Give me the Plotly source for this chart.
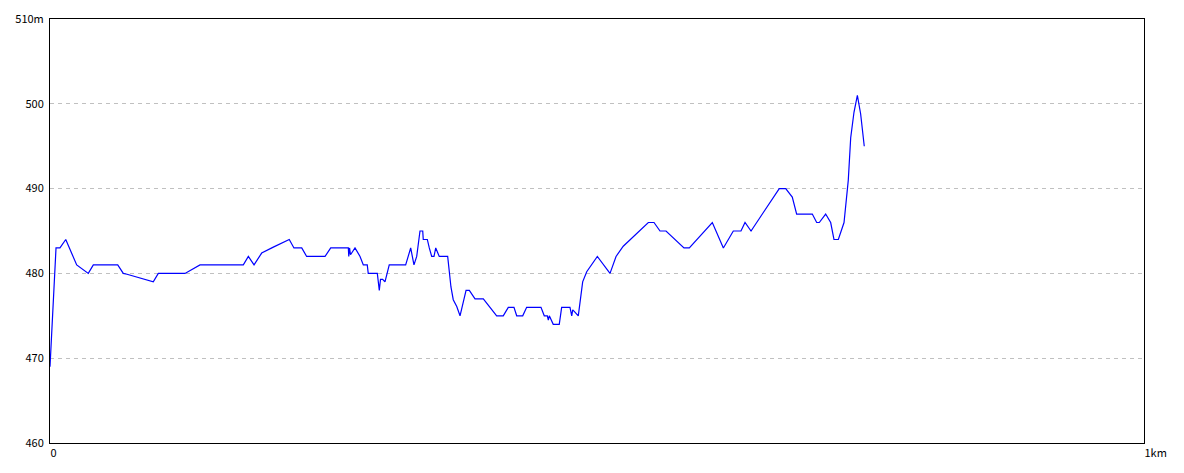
import plotly.graph_objects as go

distance_km = [
    0.0000, 0.0006, 0.0014, 0.0023, 0.0032, 0.0041, 0.0050, 0.0055, 0.0091, 0.0144,
    0.0244, 0.0350, 0.0396, 0.0619, 0.0670, 0.0704, 0.0944, 0.0990, 0.1234, 0.1371,
    0.1767, 0.1813, 0.1865, 0.1935, 0.2041, 0.2187, 0.2230, 0.2301, 0.2346, 0.2514,
    0.2566, 0.2727, 0.2731, 0.2738, 0.2747, 0.2788, 0.2834, 0.2864, 0.2900, 0.2909,
    0.2992, 0.2998, 0.3010, 0.3021, 0.3041, 0.3062, 0.3101, 0.3251, 0.3297, 0.3327,
    0.3352, 0.3382, 0.3407, 0.3412, 0.3449, 0.3467, 0.3489, 0.3510, 0.3526, 0.3558,
    0.3635, 0.3665, 0.3686, 0.3718, 0.3748, 0.3803, 0.3833, 0.3885, 0.3961, 0.4083,
    0.4143, 0.4189, 0.4241, 0.4266, 0.4321, 0.4357, 0.4488, 0.4518, 0.4546, 0.4555,
    0.4564, 0.4600, 0.4655, 0.4677, 0.4753, 0.4769, 0.4778, 0.4794, 0.4829, 0.4869,
    0.4906, 0.5003, 0.5119, 0.5174, 0.5240, 0.5469, 0.5521, 0.5576, 0.5631, 0.5795,
    0.5844, 0.6054, 0.6155, 0.6246, 0.6316, 0.6353, 0.6408, 0.6666, 0.6725, 0.6785,
    0.6825, 0.6968, 0.7008, 0.7032, 0.7090, 0.7136, 0.7166, 0.7206, 0.7258, 0.7297,
    0.7319, 0.7349, 0.7380, 0.7410, 0.7429, 0.7443,
]

elevation_m = [
    469, 470.5, 472.5, 475, 477, 479, 482, 483, 483, 484,
    481, 480, 481, 481, 480, 479.9, 479, 480, 480, 481,
    481, 482, 481, 482.4, 483.1, 484, 483, 483, 482, 482,
    483, 483, 482, 483, 482.2, 483, 482, 481, 481, 480,
    480, 479, 478, 479.3, 479.3, 479, 481, 481, 483, 481,
    482, 485, 485, 484, 484, 483, 482, 482, 483, 482,
    482, 478.4, 476.9, 476.1, 475, 478, 478, 477, 477, 475,
    475, 476, 476, 475, 475, 476, 476, 475, 475, 474.5,
    475, 474, 474, 476, 476, 475, 475.7, 475.5, 475, 479,
    480.2, 482, 480, 482, 483.2, 486, 486, 485, 485, 483,
    483, 486, 483, 485, 485, 486, 485, 490, 490, 489,
    487, 487, 486, 486, 487, 486, 484, 484, 486, 491,
    496, 499, 501, 498.8, 496.5, 495,
]

y_tick_vals = [460, 470, 480, 490, 500, 510]
y_tick_text = ["460", "470", "480", "490", "500", "510m"]
x_tick_vals = [0, 1]
x_tick_text = ["0", "1km"]

fig = go.Figure()
fig.add_trace(go.Scatter(
    x=distance_km, y=elevation_m, mode="lines",
    line=dict(color="#0000ff", width=1.2),
    hoverinfo="x+y", showlegend=False,
))

font = dict(family="Noto Sans CJK JP, DejaVu Sans, sans-serif", size=11, color="black")

# the page body adds an 8px offset, so margins are reduced accordingly
fig.update_layout(
    width=1168, height=457,
    margin=dict(l=42, r=32, t=11, b=22, pad=0),
    paper_bgcolor="white", plot_bgcolor="white",
    font=font,
    xaxis=dict(
        range=[0, 1], tickvals=x_tick_vals, ticktext=x_tick_text,
        showgrid=False, zeroline=False, showline=True, mirror=True,
        linecolor="black", linewidth=1, ticks="", ticklen=0,
        ticklabelposition="outside right",
        tickfont=font, fixedrange=True, automargin=False,
    ),
    yaxis=dict(
        range=[460, 510], tickvals=y_tick_vals, ticktext=y_tick_text,
        showgrid=True, gridcolor="#c0c0c0", gridwidth=1, griddash="4px,4px",
        zeroline=False, showline=True, mirror=True,
        linecolor="black", linewidth=1, ticks="", ticklen=0,
        ticklabelstandoff=3,
        tickfont=font, fixedrange=True, automargin=False,
    ),
)

fig.write_html("out.html")
